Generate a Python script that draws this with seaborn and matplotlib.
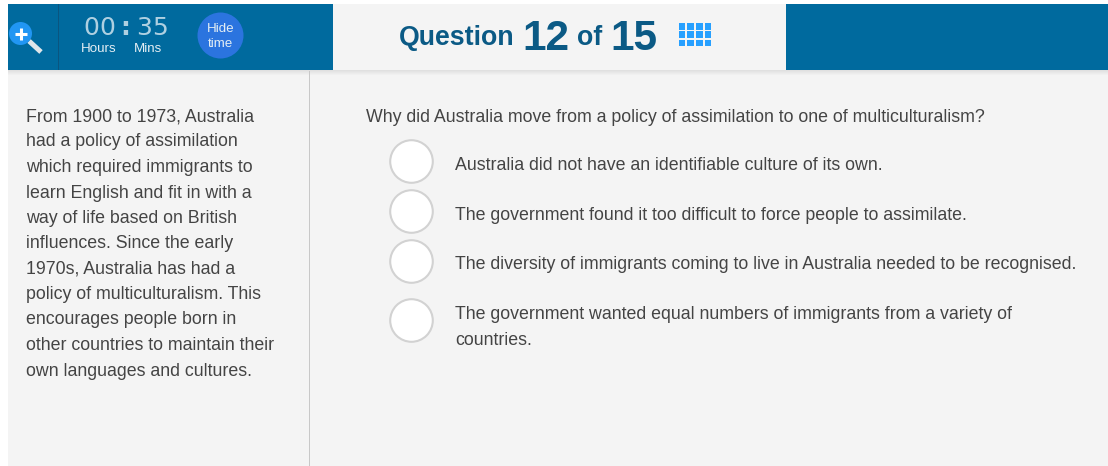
import matplotlib
matplotlib.use("Agg")
import matplotlib.pyplot as plt
from matplotlib.patches import Rectangle, Circle
import pandas as pd
import seaborn as sns

passage_lines = [
    "From 1900 to 1973, Australia", "had a policy of assimilation",
    "which required immigrants to", "learn English and fit in with a",
    "way of life based on British", "influences. Since the early",
    "1970s, Australia has had a", "policy of multiculturalism. This",
    "encourages people born in", "other countries to maintain their",
    "own languages and cultures.",
]
passage_y = [116.5, 142, 167.5, 193, 218.5, 244, 269, 294.5, 320, 345.5, 371]
question = "Why did Australia move from a policy of assimilation to one of multiculturalism?"
options = [
    "Australia did not have an identifiable culture of its own.",
    "The government found it too difficult to force people to assimilate.",
    "The diversity of immigrants coming to live in Australia needed to be recognised.",
    "The government wanted equal numbers of immigrants from a variety of",
    "countries.",
]
option_y = [165, 215, 264.5, 314.5, 340.5]
radio_y = [161, 211, 261, 320]
timer_chars = ["0", "0", ":", "3", "5"]
timer_x = [91.5, 107.5, 125, 144, 160]

BLUE = "#006a9e"
BG = "#f4f4f4"
DARK = "#0b5a85"
TXT = "#444444"
FS = 12.8

sns.set_theme(style="white")
plt.rcParams["font.family"] = ["Liberation Sans", "DejaVu Sans"]

fig = plt.figure(figsize=(11.08, 4.66), dpi=100, facecolor="white")
ax = fig.add_axes([0, 0, 1, 1])
ax.set_xlim(0, 1108)
ax.set_ylim(466, 0)
ax.axis("off")

# panels
ax.add_patch(Rectangle((8, 70), 1100, 396, fc=BG, ec="none", zorder=0))
for i in range(5):
    ax.add_patch(Rectangle((8, 70 + i), 1100, 1, fc="#d8d8d8", ec="none", alpha=0.7 - i * 0.14, zorder=1))
ax.add_patch(Rectangle((8, 4), 325, 66, fc=BLUE, ec="none", zorder=2))
ax.add_patch(Rectangle((333, 4), 453, 66, fc=BG, ec="none", zorder=2))
ax.add_patch(Rectangle((786, 4), 322, 66, fc=BLUE, ec="none", zorder=2))
ax.add_patch(Rectangle((58, 4), 1, 66, fc="#0a5580", ec="none", zorder=3))
ax.add_patch(Rectangle((309, 71), 1, 395, fc="#c8c8c8", ec="none", zorder=1))

# magnifier
ax.plot([29, 41], [41, 52], color="#dfe6ea", lw=3.6, solid_capstyle="butt", zorder=3)
ax.add_patch(Circle((20.5, 33.5), 11.5, fc="#2196f3", ec="none", zorder=4))
ax.plot([14.5, 26.5], [33.5, 33.5], color="white", lw=2.2, solid_capstyle="butt", zorder=5)
ax.plot([20.5, 20.5], [27.5, 39.5], color="white", lw=2.2, solid_capstyle="butt", zorder=5)

# timer
for ch, x in zip(timer_chars, timer_x):
    ax.text(x, 28, ch, color="#cfe3ee", fontsize=18, family="DejaVu Sans", ha="center", va="center",
            fontweight="bold" if ch == ":" else "normal", zorder=5, alpha=0.85)
ax.text(99, 49.5, "Hours", color="#e4eef4", fontsize=9.6, ha="center", va="center", zorder=5)
ax.text(148, 49.5, "Mins", color="#e4eef4", fontsize=9.6, ha="center", va="center", zorder=5)
ax.add_patch(Circle((220.5, 35.5), 23, fc="#2b74df", ec="none", zorder=4))
ax.text(220.5, 28.5, "Hide", color="#e4eef4", fontsize=9.6, ha="center", va="center", zorder=5)
ax.text(220.5, 44, "time", color="#e4eef4", fontsize=9.6, ha="center", va="center", zorder=5)

# title
tk = dict(color=DARK, fontweight="bold", va="baseline", ha="left", zorder=5)
ax.text(399, 45, "Question", fontsize=19.3, **tk)
ax.text(522, 50, "12", fontsize=30.5, **tk)
ax.text(577, 45, "of", fontsize=19.3, **tk)
ax.text(610, 50, "15", fontsize=30.5, **tk)

# grid icon
for r in range(3):
    for c in range(4):
        ax.add_patch(Rectangle((678.5 + c * 8.7, 23 + r * 8.4), 6.6, 6.6, fc="#27a0ff", ec="none", zorder=5))

# passage and question text
for s, y in zip(passage_lines, passage_y):
    ax.text(26, y, s, color=TXT, fontsize=FS, va="center", ha="left", zorder=5)
ax.text(366, 117, question, color=TXT, fontsize=FS, va="center", ha="left", zorder=5)
for s, y in zip(options, option_y):
    ax.text(455, y, s, color=TXT, fontsize=FS, va="center", ha="left", zorder=5)

# radio buttons
radios = pd.DataFrame({"x": [411] * len(radio_y), "y": radio_y})
sns.scatterplot(data=radios, x="x", y="y", ax=ax, s=940, color="white",
                edgecolor="#d2d2d2", linewidth=1.5, legend=False, zorder=4, clip_on=False)
ax.set_xlim(0, 1108)
ax.set_ylim(466, 0)
ax.axis("off")

fig.savefig("out.png", dpi=100, facecolor="white")
